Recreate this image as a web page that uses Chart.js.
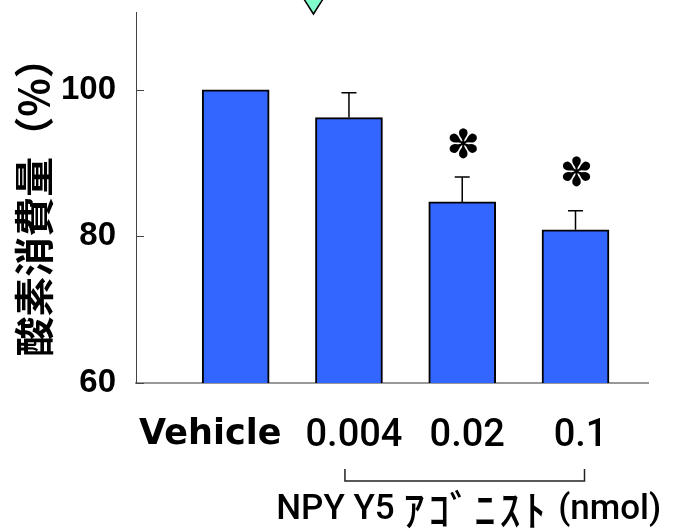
<!DOCTYPE html>
<html lang="ja">
<head>
<meta charset="UTF-8">
<title>酸素消費量</title>
<script src="https://cdn.jsdelivr.net/npm/chart.js"></script>
<style>
  html, body { margin: 0; padding: 0; background: #fff; }
  .box { width: 675px; height: 531px; position: relative; }
</style>
</head>
<body>
<div class="box"><canvas id="chart"></canvas></div>
<script>
// values
const groups = ['Vehicle', '0.004', '0.02', '0.1'];
const values = [100, 96.2, 84.7, 80.9];
const errors = [0, 3.4, 3.4, 2.6];
const marked = [false, false, true, true];   // * p < 0.05
const yTicks = [60, 80, 100];
const yTitle = '酸素消費量（%）';
const xTitle = ['NPY Y5 ', 'ｱｺﾞﾆｽﾄ', ' (nmol)'];

const BLUE = '#3366ff';

// small extras that chart.js has no option for: inner ticks, error bars, asterisks, bracket
const extras = {
    id: 'extras',
    afterDatasetsDraw(chart) {
        const { ctx, chartArea, scales: { y } } = chart;
        const bars = chart.getDatasetMeta(0).data;
        ctx.save();

        ctx.strokeStyle = '#444';
        ctx.lineWidth = 1;
        yTicks.forEach(v => {
            const py = Math.round(y.getPixelForValue(v)) + 0.5;
            ctx.beginPath();
            ctx.moveTo(chartArea.left, py);
            ctx.lineTo(chartArea.left + 8, py);
            ctx.stroke();
        });

        ctx.strokeStyle = '#000';
        ctx.lineWidth = 1.5;
        bars.forEach((bar, i) => {
            if (!errors[i]) return;
            const top = y.getPixelForValue(values[i] + errors[i]);
            ctx.beginPath();
            ctx.moveTo(bar.x, bar.y);
            ctx.lineTo(bar.x, top);
            ctx.moveTo(bar.x - 7.5, top);
            ctx.lineTo(bar.x + 7.5, top);
            ctx.stroke();
        });

        ctx.fillStyle = '#000';
        ctx.font = '40px "DejaVu Sans"';
        ctx.textAlign = 'center';
        ctx.textBaseline = 'middle';
        bars.forEach((bar, i) => {
            if (marked[i]) ctx.fillText('✽', bar.x + 1, bar.y - 54);
        });

        // injection arrow above the 0.004 bar
        const ax = bars[1].x - bars[1].width / 2 - 2;
        const ay = chartArea.top + 2;
        ctx.beginPath();
        ctx.moveTo(ax, ay);
        ctx.lineTo(ax - 14, ay - 22);
        ctx.lineTo(ax + 14, ay - 22);
        ctx.closePath();
        ctx.fillStyle = '#80ffcc';
        ctx.fill();
        ctx.strokeStyle = '#000';
        ctx.lineWidth = 1.5;
        ctx.stroke();
        ctx.restore();
    },
    afterDraw(chart) {
        const { ctx, chartArea } = chart;
        const bars = chart.getDatasetMeta(0).data;
        const left = bars[1].x - 4;
        const right = bars[3].x + 9;
        const by = chartArea.bottom + 98;
        ctx.save();
        ctx.strokeStyle = '#222';
        ctx.lineWidth = 1.5;
        ctx.beginPath();
        ctx.moveTo(left, by - 12);
        ctx.lineTo(left, by);
        ctx.lineTo(right, by);
        ctx.lineTo(right, by - 12);
        ctx.stroke();

        // axis title under the bracket, latin + half-width katakana
        const fonts = ['500 35px Roboto', '500 42px "Noto Sans CJK JP"', '500 35px Roboto'];
        const spacing = ['0px', '4px', '0px'];
        let total = 0;
        const widths = xTitle.map((s, i) => {
            ctx.font = fonts[i];
            ctx.letterSpacing = spacing[i];
            const w = ctx.measureText(s).width;
            total += w;
            return w;
        });
        let tx = (left + right) / 2 - total / 2 + 4;
        ctx.fillStyle = '#000';
        ctx.textAlign = 'left';
        ctx.textBaseline = 'middle';
        xTitle.forEach((s, i) => {
            ctx.font = fonts[i];
            ctx.letterSpacing = spacing[i];
            ctx.fillText(s, tx, by + 29);
            tx += widths[i];
        });
        ctx.restore();
    }
};

new Chart(document.getElementById('chart'), {
    type: 'bar',
    data: {
        datasets: [{
            data: values.map((v, i) => ({ x: i, y: v })),
            backgroundColor: BLUE,
            borderColor: '#000',
            borderWidth: 2,
            barThickness: 67
        }]
    },
    options: {
        responsive: true,
        maintainAspectRatio: false,
        animation: false,
        layout: { padding: { top: 12, right: 27, left: 0, bottom: 0 } },
        plugins: {
            legend: { display: false },
            tooltip: { enabled: false }
        },
        scales: {
            x: {
                type: 'linear',
                offset: false,
                min: -0.88,
                max: 3.64,
                grid: { display: false, drawTicks: false },
                border: { display: true, color: '#999', width: 2 },
                afterBuildTicks: axis => { axis.ticks = groups.map((g, i) => ({ value: i })); },
                afterFit: axis => {
                    axis.height = 148;
                    axis.paddingLeft = 0;
                    axis.paddingRight = 0;
                },
                ticks: {
                    autoSkip: false,
                    maxRotation: 0,
                    padding: 31,
                    labelOffset: 5,
                    color: '#000',
                    callback: v => v === 0 ? groups[v] + '     ' : groups[v],
                    font: c => c.index === 0
                        ? { family: '"DejaVu Sans"', weight: 'bold', size: 35 }
                        : { family: 'Roboto', weight: 500, size: 38 }
                }
            },
            y: {
                min: 60,
                max: 110.6,
                grid: { display: false, drawTicks: false },
                border: { display: true, color: '#444', width: 1 },
                afterBuildTicks: axis => { axis.ticks = yTicks.map(v => ({ value: v })); },
                afterFit: axis => {
                    axis.width = 136;
                    axis.paddingTop = 0;
                    axis.paddingBottom = 0;
                },
                ticks: {
                    padding: 20,
                    color: '#000',
                    font: { family: '"Liberation Sans"', weight: 'bold', size: 33 }
                },
                title: {
                    display: true,
                    text: yTitle,
                    color: '#000',
                    padding: { top: 10, bottom: 0 },
                    font: { family: '"Noto Sans CJK JP"', weight: 'bold', size: 40 }
                }
            }
        }
    },
    plugins: [extras]
});
</script>
</body>
</html>
